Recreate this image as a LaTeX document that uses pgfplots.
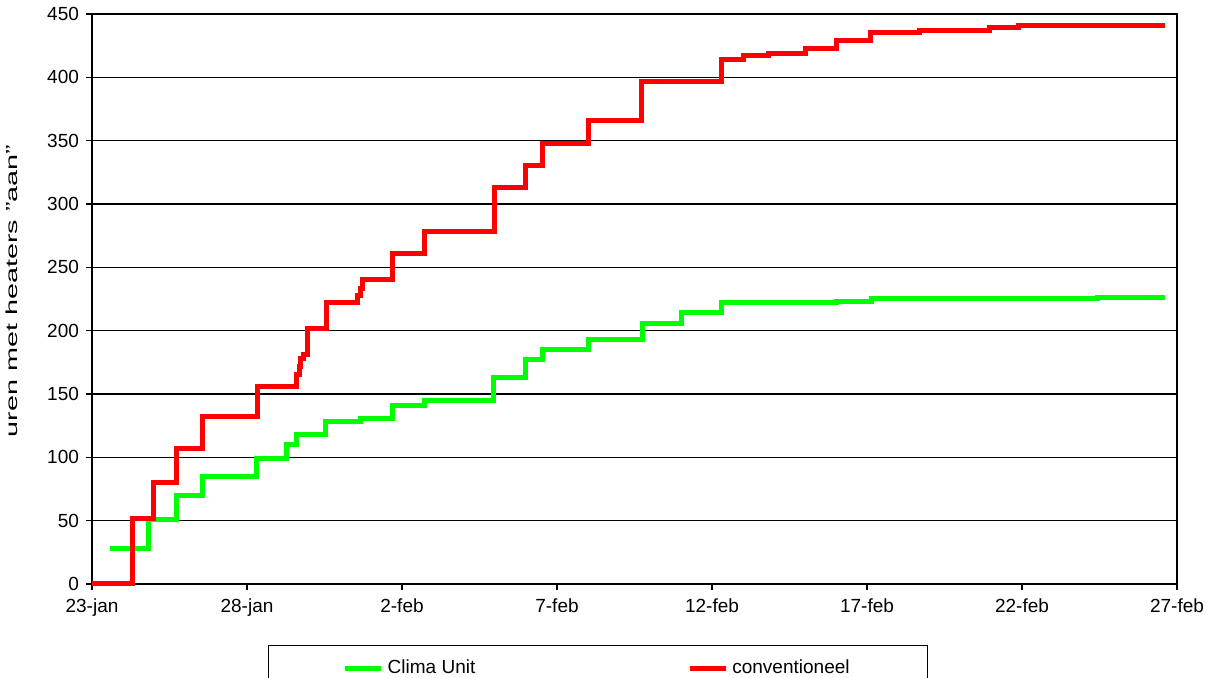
\documentclass[border=0pt]{standalone}
\usepackage{pgfplots}
\pgfplotsset{compat=1.18}
\usepackage{graphicx}
\usepackage{fontspec}
\setmainfont{Liberation Sans}
\definecolor{cgreen}{RGB}{0,255,0}
\definecolor{cred}{RGB}{255,0,0}
\begin{document}
\begin{tikzpicture}
\useasboundingbox (-46pt,-47pt) rectangle (563pt,292pt);
\begin{axis}[
  at={(0pt,0pt)}, anchor=south west,
  scale only axis, width=542.5pt, height=285pt,
  xmin=0, xmax=35, ymin=0, ymax=450,
  xtick={0,5,...,35},
  xticklabels={23-jan,28-jan,2-feb,7-feb,12-feb,17-feb,22-feb,27-feb},
  ytick={0,50,...,450},
  ymajorgrids, grid style={black, line width=0.75pt},
  axis line style={black, line width=0.75pt},
  tick style={black, line width=0.75pt}, tick align=outside, major tick length=3pt,
  xtick pos=bottom, ytick pos=left,
  ticklabel style={font=\fontsize{9.5}{11}\selectfont},
  xticklabel style={yshift=-1pt},
  /pgf/number format/assume math mode=true,
  ylabel={\scalebox{1.8}[1]{uren met heaters "aan"}},
  ylabel style={font=\fontsize{8}{10}\selectfont, xshift=4pt, yshift=8pt},
  clip=false,
  legend columns=2,
  legend style={at={(0.1622,-0.107)}, anchor=north west, draw=black, line width=0.75pt,
    font=\fontsize{9.5}{11}\selectfont, inner xsep=37pt, inner ysep=5pt,
    /tikz/every even column/.append style={column sep=104pt}},
  legend image code/.code={\draw[#1] (0pt,0pt) -- (18pt,0pt);},
  legend cell align=left,
]
\addplot[const plot, cgreen, line width=2.5pt] coordinates {
(0.58,28) (1.81,51) (2.74,70) (3.58,85) (5.32,99) (6.29,110) (6.61,118) (7.52,128)
(8.65,131) (9.68,141) (10.74,145) (12.94,163) (13.97,177) (14.52,185) (16.0,193)
(17.77,206) (19.03,214) (20.32,222) (24.03,223) (25.16,225) (32.45,226.5) (34.61,226.5)
};
\addlegendentry{Clima Unit}
\addplot[const plot, cred, line width=2.5pt] coordinates {
(0,0) (1.32,52) (1.97,80) (2.74,107) (3.58,132) (5.35,156) (6.61,165) (6.68,172)
(6.74,178) (6.81,181) (6.94,202) (7.58,222) (8.58,228) (8.65,233) (8.74,240)
(9.68,261) (10.74,278) (12.97,313) (13.97,330) (14.52,348) (16.0,366) (17.74,397)
(20.32,414) (21.03,417) (21.81,419) (23.0,423) (24.0,429) (25.1,435) (26.68,437)
(28.94,439) (29.9,441) (34.61,441)
};
\addlegendentry{conventioneel}
\end{axis}
\end{tikzpicture}
\end{document}
